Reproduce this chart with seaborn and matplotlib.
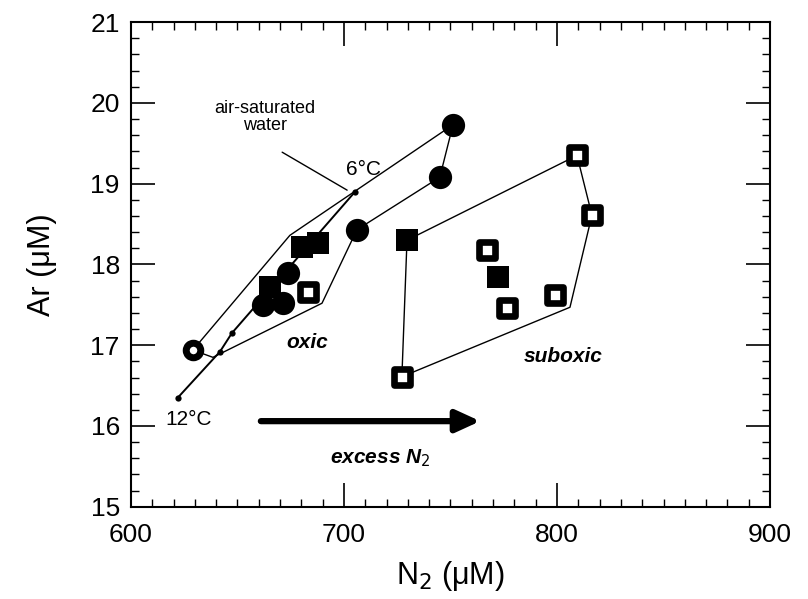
import numpy as np
import pandas as pd
import matplotlib
matplotlib.use("Agg")
import matplotlib.pyplot as plt
import seaborn as sns
from matplotlib.ticker import MultipleLocator

# ---- data ----
oxic_circle_n2 = [662.0, 671.4, 673.7, 706.1, 745.0, 751.2]
oxic_circle_ar = [17.50, 17.52, 17.89, 18.43, 19.08, 19.73]
filled_sq_n2 = [665.3, 680.3, 687.8, 729.6, 772.3]
filled_sq_ar = [17.72, 18.21, 18.26, 18.30, 17.84]
open_sq_n2 = [683.1, 809.4, 816.4, 767.1, 776.5, 799.0, 727.2]
open_sq_ar = [17.66, 19.35, 18.61, 18.18, 17.46, 17.62, 16.61]
open_circle_n2 = [629.1]
open_circle_ar = [16.94]

air_n2 = [622.0, 641.8, 647.4, 705.2]
air_ar = [16.35, 16.92, 17.15, 18.90]

oxic_poly_n2 = [629.1, 674.6, 751.2, 745.0, 706.1, 689.7, 638.5, 629.1]
oxic_poly_ar = [16.94, 18.36, 19.73, 19.08, 18.43, 17.52, 16.85, 16.94]
sub_poly_n2 = [729.6, 809.4, 816.4, 806.1, 727.2, 729.6]
sub_poly_ar = [18.30, 19.35, 18.61, 17.47, 16.61, 18.30]

x_ticks = [600, 700, 800, 900]
y_ticks = [15, 16, 17, 18, 19, 20, 21]

sns.set_theme(style="ticks")
plt.rcParams['font.family'] = ['Liberation Sans', 'DejaVu Sans']
plt.rcParams['text.color'] = 'black'
plt.rcParams['axes.labelcolor'] = 'black'
plt.rcParams['xtick.color'] = 'black'
plt.rcParams['ytick.color'] = 'black'

fig = plt.figure(figsize=(8.08, 5.99), dpi=100)
ax = fig.add_axes([0.162, 0.154, 0.791, 0.809])

# polygons and air-saturation line
sns.lineplot(x=oxic_poly_n2, y=oxic_poly_ar, sort=False, estimator=None,
             color="black", lw=1.0, ax=ax)
sns.lineplot(x=sub_poly_n2, y=sub_poly_ar, sort=False, estimator=None,
             color="black", lw=1.0, ax=ax)
sns.lineplot(x=air_n2, y=air_ar, sort=False, estimator=None,
             color="black", lw=1.4, ax=ax, marker="o", markersize=4.5,
             markeredgewidth=0)

# points
sns.scatterplot(x=oxic_circle_n2, y=oxic_circle_ar, marker="o", s=280,
                color="black", edgecolor="black", linewidth=0, ax=ax, zorder=5)
sns.scatterplot(x=filled_sq_n2, y=filled_sq_ar, marker="s", s=260,
                color="black", edgecolor="black", linewidth=0, ax=ax, zorder=5)
sns.scatterplot(x=open_sq_n2, y=open_sq_ar, marker="s", s=140,
                color="white", edgecolor="black", linewidth=4.8, ax=ax, zorder=6)
sns.scatterplot(x=open_circle_n2, y=open_circle_ar, marker="o", s=110,
                color="white", edgecolor="black", linewidth=5.0, ax=ax, zorder=6)

# annotations
ax.plot([671, 701.5], [19.39, 18.92], color="black", lw=1.0)
ax.text(663, 19.82, "air-saturated\nwater", ha="center", va="center",
        fontsize=13, linespacing=1.0)
ax.text(709, 19.18, "6°C", ha="center", va="center", fontsize=15)
ax.text(627, 16.08, "12°C", ha="center", va="center", fontsize=15)
ax.text(683, 17.03, "oxic", ha="center", va="center", fontsize=15,
        fontweight="bold", style="italic")
ax.text(803, 16.86, "suboxic", ha="center", va="center", fontsize=15,
        fontweight="bold", style="italic")
ax.annotate("", xy=(764, 16.06), xytext=(661, 16.06),
            arrowprops=dict(arrowstyle="-|>,head_length=1.2,head_width=0.55",
                            lw=4.5, color="black", shrinkA=0, shrinkB=0))
ax.text(717, 15.6, "excess N$_2$", ha="center", va="center", fontsize=15,
        fontweight="bold", style="italic")

ax.set_xlim(600, 900)
ax.set_ylim(15, 21)
ax.set_xticks(x_ticks)
ax.set_yticks(y_ticks)
ax.xaxis.set_minor_locator(MultipleLocator(10))
ax.yaxis.set_minor_locator(MultipleLocator(0.2))
ax.tick_params(which="both", direction="in", top=True, right=True,
               labelsize=19, colors="black")
ax.tick_params(which="major", length=17, width=1.2, pad=8)
ax.tick_params(axis="x", which="major", pad=12)
ax.tick_params(which="minor", length=6, width=1.0)
for s in ax.spines.values():
    s.set_linewidth(1.5)
    s.set_color("black")
ax.set_xlabel("N$_2$ (μM)", fontsize=22, labelpad=8)
ax.set_ylabel("Ar (μM)", fontsize=22, labelpad=24)

fig.savefig("out.png", dpi=100)
